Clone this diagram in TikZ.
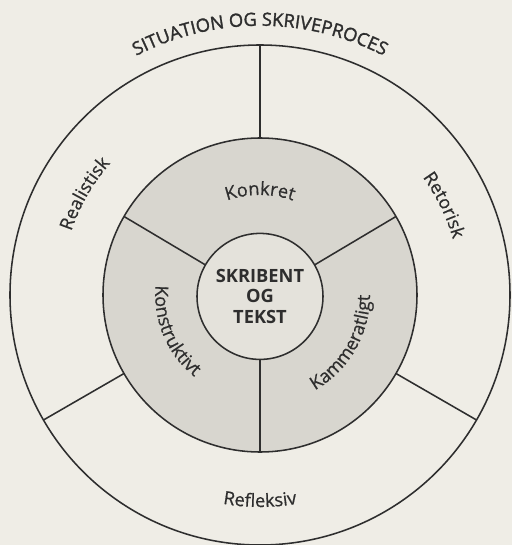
\documentclass[tikz,border=0pt]{standalone}
\usepackage{fontspec}
\setmainfont{Open Sans}
\usetikzlibrary{decorations.text}
\definecolor{paper}{HTML}{EFEDE6}
\definecolor{ringgray}{HTML}{D8D6CF}
\definecolor{coregray}{HTML}{E4E2DB}
\definecolor{ink}{HTML}{2E2E2E}
\tikzset{
  disc/.style={circle, draw=ink, line width=1.1pt, inner sep=0pt, outer sep=0pt},
  spoke/.style={draw=ink, line width=1.1pt},
  arctext/.style 2 args={decorate, decoration={text along path, text align=center,
    text={|\fontsize{13}{16}\selectfont\addfontfeature{FakeBold=#1}\color{ink}|#2}}}
}
\begin{document}
\begin{tikzpicture}
\fill[paper] (-6.5,-6.25) rectangle (6.3,7.375);
\useasboundingbox (-6.5,-6.25) rectangle (6.3,7.375);
\coordinate (O) at (0,0);
% three discs
\node[disc, minimum size=12.5cm] (outer) at (O) {};
\node[disc, fill=ringgray, minimum size=7.85cm] (ring) at (O) {};
\node[disc, fill=coregray, minimum size=3.15cm, align=center, text=ink,
  font=\fontsize{13}{14.8}\selectfont\bfseries] (core) at ([yshift=-1pt]O) {SKRIBENT\\OG\\TEKST};
% spokes
\foreach \a in {90,210,330} \path[spoke] (ring.\a) -- (outer.\a);
\foreach \a in {30,150,270} \path[spoke] (core.\a) -- (ring.\a);
% labels, tops outward
\foreach \r/\a/\w/\txt in {6.73/90/1.6/SITUATION OG SKRIVEPROCES, 4.98/150/0.6/Realistisk,
  5.02/26/0.6/Retorisk, 2.5/90/0.6/Konkret}
  \path[arctext/.expanded={{\w}{\txt}}] ({\a+60}:\r) arc[start angle=\a+60, end angle=\a-60, radius=\r];
% labels, tops inward
\foreach \r/\a/\w/\txt in {5.3/270/0.6/Refleksiv, 2.62/203/0.6/Konstruktivt, 2.75/330/0.6/Kammeratligt}
  \path[arctext/.expanded={{\w}{\txt}}] ({\a-60}:\r) arc[start angle=\a-60, end angle=\a+60, radius=\r];
\end{tikzpicture}
\end{document}
